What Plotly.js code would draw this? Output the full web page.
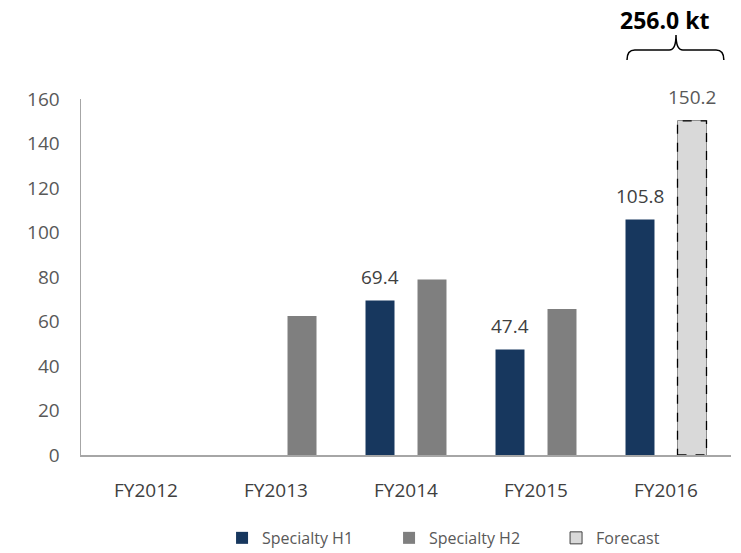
<!DOCTYPE html>
<html>
<head>
<meta charset="utf-8">
<script src="https://cdn.plot.ly/plotly-3.0.1.min.js"></script>
<style>html,body{margin:0;padding:0;background:#fff;}#chart{width:741px;height:553px;}</style>
</head>
<body>
<div id="chart"></div>
<script>
const categories = ['FY2012', 'FY2013', 'FY2014', 'FY2015', 'FY2016'];
const h1Values = [null, null, 69.4, 47.4, 105.8];
const h2Values = [null, 62.5, 78.9, 65.6, null];
const forecastValues = [null, null, null, null, 150.2];
const h1Labels = ['', '', '69.4', '47.4', '105.8'];
const forecastLabels = ['', '', '', '', '150.2'];
const totalLabel = '256.0 kt';
const seriesNames = ['Specialty H1', 'Specialty H2', 'Forecast'];
const yTicks = [0, 20, 40, 60, 80, 100, 120, 140, 160];

const FONT = 'Open Sans, Lato, sans-serif';
const BW = 0.223;
const OFF1 = -0.2 - BW / 2;
const OFF2 = 0.2 - BW / 2;

const traces = [
  {type: 'bar', name: seriesNames[0], x: categories, y: h1Values, offset: OFF1, width: BW,
   marker: {color: '#17375e'}, hoverinfo: 'skip'},
  {type: 'bar', name: seriesNames[1], x: categories, y: h2Values, offset: OFF2, width: BW,
   marker: {color: '#7f7f7f'}, hoverinfo: 'skip'},
  {type: 'bar', name: seriesNames[2], x: categories, y: forecastValues, offset: OFF2, width: BW,
   marker: {color: '#d9d9d9', line: {color: '#404040', width: 1}}, hoverinfo: 'skip'}
];

const annotations = [];
h1Values.forEach((v, i) => {
  if (v != null && h1Labels[i]) annotations.push({x: i - 0.2, y: v, xref: 'x', yref: 'y', text: h1Labels[i],
    showarrow: false, yanchor: 'bottom', yshift: 9, font: {family: FONT, size: 19, color: '#404040'}});
});
forecastValues.forEach((v, i) => {
  if (v != null && forecastLabels[i]) annotations.push({x: i + 0.2, y: v, xref: 'x', yref: 'y', text: forecastLabels[i],
    showarrow: false, yanchor: 'bottom', yshift: 9, font: {family: FONT, size: 19, color: '#595959'}});
});
annotations.push({x: 0.898, y: 1.222, xref: 'paper', yref: 'paper', text: '<b>' + totalLabel + '</b>',
  showarrow: false, xanchor: 'center', yanchor: 'middle', font: {family: FONT, size: 23, color: '#000'}});

const shapes = [];
forecastValues.forEach((v, i) => {
  if (v != null) shapes.push({type: 'rect', xref: 'x', yref: 'y', x0: i + OFF2, x1: i + OFF2 + BW, y0: 0, y1: v,
    line: {color: '#000', width: 1.3, dash: 'dash'}, fillcolor: '#d9d9d9', layer: 'above'});
});
shapes.push({type: 'path', xref: 'paper', yref: 'paper',
  path: 'M 0.84 1.1096 Q 0.84 1.1376 0.852 1.1376 L 0.905 1.1376 Q 0.9154 1.1376 0.9154 1.1798 Q 0.9154 1.1376 0.926 1.1376 L 0.977 1.1376 Q 0.989 1.1376 0.989 1.1096',
  line: {color: '#000', width: 1.5}});

const layout = {
  width: 741, height: 553,
  margin: {l: 81, r: 10, t: 99, b: 98, autoexpand: false},
  paper_bgcolor: '#fff', plot_bgcolor: '#fff',
  barmode: 'overlay',
  showlegend: true,
  legend: {orientation: 'h', x: 0.217, xanchor: 'left', y: -0.233, yanchor: 'middle',
    font: {family: FONT, size: 16, color: '#595959'}, entrywidth: 122, entrywidthmode: 'pixels',
    traceorder: 'normal', itemwidth: 30},
  xaxis: {type: 'category', range: [-0.5, 4.5], showline: true, linecolor: '#a6a6a6', linewidth: 1.5,
    ticks: '', showgrid: false, zeroline: false, ticklabelstandoff: 18, automargin: false,
    tickfont: {family: FONT, size: 19, color: '#404040'}},
  yaxis: {range: [0, 160], tickvals: yTicks, showline: true, linecolor: '#a6a6a6', linewidth: 1.5,
    ticks: '', showgrid: false, zeroline: false, ticklabelstandoff: 16, automargin: false,
    tickfont: {family: FONT, size: 19, color: '#595959'}},
  annotations: annotations,
  shapes: shapes
};

Plotly.newPlot('chart', traces, layout, {displayModeBar: false, staticPlot: true});
</script>
</body>
</html>
